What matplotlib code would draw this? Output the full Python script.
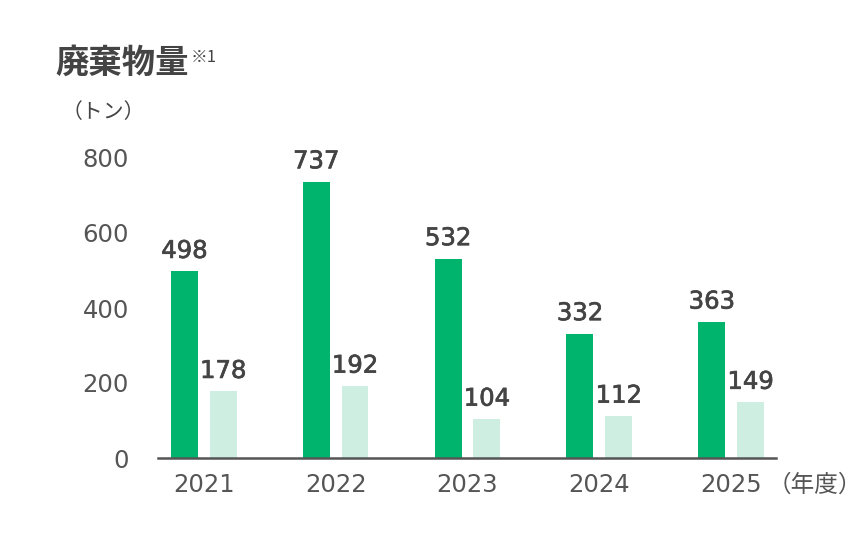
import numpy as np
import matplotlib
matplotlib.use("Agg")
import matplotlib.pyplot as plt
import matplotlib.patheffects as pe

plt.rcParams['font.family'] = ['DejaVu Sans', 'Noto Sans CJK JP']
cjk = ['Noto Sans CJK JP', 'DejaVu Sans']

# data
years = ['2021', '2022', '2023', '2024', '2025']
waste_dark = [498, 737, 532, 332, 363]
waste_light = [178, 192, 104, 112, 149]

dark_green = '#00b46e'
light_green = '#cdeee0'
text_col = '#444444'

fig = plt.figure(figsize=(8.61, 5.41), dpi=100)
ax = fig.add_axes([158 / 861, 83 / 541, (776 - 158) / 861, 300 / 541])

x = np.arange(len(years))
w = 0.204
off = 0.147

b1 = ax.bar(x - off, waste_dark, width=w, color=dark_green)
b2 = ax.bar(x + off, waste_light, width=w, color=light_green)

# value labels: regular weight with a thin stroke, to look medium
medium = [pe.withStroke(linewidth=0.5, foreground='#444444')]
for rect, val in zip(list(b1) + list(b2), waste_dark + waste_light):
    ax.annotate(str(val), (rect.get_x() + rect.get_width() / 2, rect.get_height()),
                xytext=(0, 6), textcoords='offset points', ha='center', va='bottom',
                fontsize=17.5, color='#444444', clip_on=False, path_effects=medium)

ax.set_xlim(-0.347, 4.34)
ax.set_ylim(0, 800)
ax.set_yticks([0, 200, 400, 600, 800])
ax.set_xticks(x)
ax.set_xticklabels(years)
ax.tick_params(axis='both', length=0, labelsize=17.5, labelcolor='#555555')
ax.tick_params(axis='y', pad=21)
ax.tick_params(axis='x', pad=11)

for s in ['top', 'right', 'left']:
    ax.spines[s].set_visible(False)
ax.spines['bottom'].set_color('#555555')
ax.spines['bottom'].set_linewidth(1.8)

fig.text(55 / 861, 1 - 63 / 541, '廃棄物量', fontsize=24, fontweight='bold',
         color=text_col, va='center', ha='left', family=cjk)
fig.text(191 / 861, 1 - 57 / 541, '※1', fontsize=12, color=text_col,
         va='center', ha='left', family=cjk)
fig.text(62 / 861, 1 - 112 / 541, '（トン）', fontsize=15, color=text_col,
         va='center', ha='left', family=cjk)
fig.text(768 / 861, 1 - 485 / 541, '（年度）', fontsize=17, color='#555555',
         va='center', ha='left', family=cjk)

fig.savefig('out.png', dpi=100)
